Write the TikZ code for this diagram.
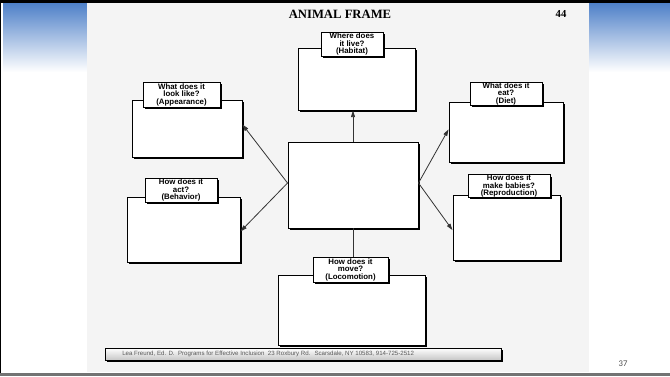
\documentclass[tikz,border=0pt]{standalone}
\usepackage{fontspec}
\setmainfont{Liberation Sans}
\newfontfamily\titlefont{Liberation Serif}
\newfontfamily\slidefont{Carlito}
\usetikzlibrary{arrows.meta,shadows}
\definecolor{pagegray}{RGB}{244,244,244}
\definecolor{headblue}{RGB}{78,128,200}
\begin{document}
\begin{tikzpicture}[x=0.75pt,y=0.75pt,yscale=-1,xscale=1,
    framebox/.style={draw=black,line width=0.7pt,fill=white,inner sep=0pt,
      drop shadow={shadow xshift=1.5pt,shadow yshift=-1.5pt,opacity=1,fill=black}},
    askbox/.style={framebox,align=center,font=\fontsize{5.9}{5.6}\selectfont\bfseries},
    link/.style={draw=black!80,line width=0.6pt},
    arr/.style={link,-{Triangle[length=5pt,width=3pt]}}]
    \useasboundingbox (0,0) rectangle (670,376);

    % Slide
    \fill[white] (0,0) rectangle (670,376);
    \shade[top color=headblue,bottom color=white] (3,3) rectangle (87,72);
    \shade[top color=headblue,bottom color=white] (589,3) rectangle (670,72);
    \fill[pagegray] (87,3) rectangle (589,372);
    \draw[line width=2.2pt] (0,376) -- (0,1.5) -- (670,1.5);
    \draw[black!55,line width=2pt] (0,374.5) -- (670,374.5);

    % Title
    \node (title) at (340,14) {\titlefont\fontsize{9.5}{10}\selectfont\bfseries ANIMAL FRAME};
    \node (pagenum) at (561,14) {\titlefont\fontsize{8}{8}\selectfont\bfseries 44};

    % Center
    \node[framebox,minimum width=97.5pt,minimum height=64.5pt] (animal) at (353,185) {};

    % Habitat
    \node[framebox,minimum width=87.75pt,minimum height=46.5pt] (habitat) at (356.5,79) {};
    \node[askbox,minimum width=46.5pt,minimum height=18pt] (habitatq) at (352,44) {Where does\\it live?\\(Habitat)};

    % Appearance
    \node[framebox,minimum width=82.5pt,minimum height=42.75pt] (appearance) at (187,128.5) {};
    \node[askbox,minimum width=57.75pt,minimum height=18.75pt] (appearanceq) at (181.5,94.5) {What does it\\look like?\\(Appearance)};

    % Behavior
    \node[framebox,minimum width=84.75pt,minimum height=48.75pt] (behavior) at (183.5,229.5) {};
    \node[askbox,minimum width=54pt,minimum height=18pt] (behaviorq) at (181,190) {How does it\\act?\\(Behavior)};

    % Diet
    \node[framebox,minimum width=85.5pt,minimum height=45pt] (diet) at (506,132) {};
    \node[askbox,minimum width=54pt,minimum height=17.25pt] (dietq) at (506,93.5) {What does it\\eat?\\(Diet)};

    % Reproduction
    \node[framebox,minimum width=80.25pt,minimum height=48.75pt] (reproduction) at (506.5,227.5) {};
    \node[askbox,minimum width=61.5pt,minimum height=16.5pt] (reproductionq) at (509,186) {How does it\\make babies?\\(Reproduction)};

    % Locomotion
    \node[framebox,minimum width=110.25pt,minimum height=52.5pt] (locomotion) at (351.5,310) {};
    \node[askbox,minimum width=56.25pt,minimum height=18.75pt] (locomotionq) at (350.5,269.5) {How does it\\move?\\(Locomotion)};

    % Connection
    \draw[arr] (animal.north) -- (animal.north |- habitat.south);
    \draw[arr] ([yshift=-1.5pt]animal.west) -- ([yshift=-3pt]appearance.east);
    \draw[arr] ([yshift=-1.5pt]animal.west) -- ([yshift=1.5pt]behavior.east);
    \draw[arr] ([yshift=-1.5pt]animal.east) -- ([yshift=-2pt]diet.west);
    \draw[arr] ([yshift=-1.5pt]animal.east) -- ([yshift=2pt]reproduction.west);
    \draw[link] (animal.south) -- (animal.south |- locomotionq.north);

    % Footer
    \node[draw=black,line width=0.6pt,top color=white,bottom color=black!22,inner sep=0pt,
      minimum width=297pt,minimum height=9pt,
      drop shadow={shadow xshift=1.5pt,shadow yshift=-1.5pt,opacity=1,fill=black}] (footer) at (303,354) {};
    \node[anchor=west,inner sep=0pt,text=black!65,font=\fontsize{4.6}{5}\selectfont] (credit) at (122,354)
      {Lea Freund, Ed. D. \ Programs for Effective Inclusion \ 23 Roxbury Rd. \ Scarsdale, NY 10583, 914-725-2512};
    \node[text=black!70] (slideno) at (623,364) {\slidefont\fontsize{6.5}{7}\selectfont 37};
\end{tikzpicture}
\end{document}
